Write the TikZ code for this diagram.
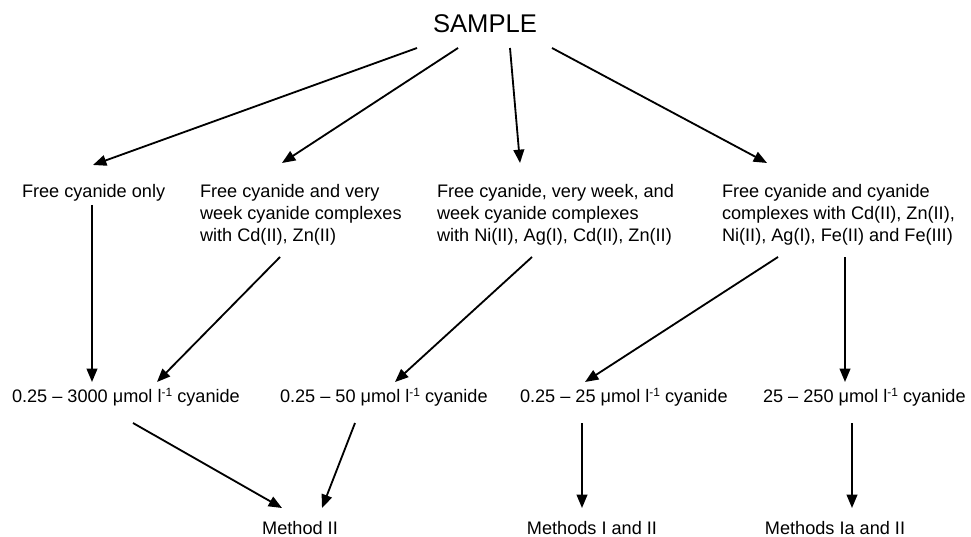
\documentclass[tikz,border=0pt]{standalone}
\usepackage{fontspec}
\setmainfont{Liberation Sans}
\usetikzlibrary{arrows.meta,calc}

\newcommand{\perlitre}{l\raisebox{0.3em}{\fontsize{8.5}{8.5}\selectfont -1}}

\tikzstyle{cn-base}=[inner sep=0pt,
                     outer sep=0pt,
                     font=\fontsize{12.9}{15.6}\selectfont]
\tikzstyle{species}=[cn-base,
                     align=left,
                     anchor=north west]
\tikzstyle{conc-range}=[cn-base,
                        anchor=base west]
\tikzstyle{method}=[cn-base,
                    anchor=base]
\tikzstyle{cn-arrow}=[line width=1.3pt,
                      -{Triangle[length=9.5pt,width=7.6pt]}]

\begin{document}
\begin{tikzpicture}[x=0.025cm, y=-0.025cm]
    \useasboundingbox (0,0) rectangle (971,537);
    % Sample
    % --------------------------------------------------------------------------
    \node at (485, 24) (sample) [inner sep=0pt, font=\fontsize{18.2}{20}\selectfont] {SAMPLE};

    % Cyanide species
    % --------------------------------------------------------------------------
    \node at ( 22, 184) (free_only) [species] {Free cyanide only};
    \node at (200, 184) (very_week) [species] {Free cyanide and very\\
                                                week cyanide complexes\\
                                                with Cd(II), Zn(II)};
    \node at (437, 184) (week)      [species] {Free cyanide, very week, and\\
                                                week cyanide complexes\\
                                                with Ni(II), Ag(I), Cd(II), Zn(II)};
    \node at (722, 184) (all)       [species] {Free cyanide and cyanide\\
                                                complexes with Cd(II), Zn(II),\\
                                                Ni(II), Ag(I), Fe(II) and Fe(III)};

    % Ranges
    % --------------------------------------------------------------------------
    \node at ( 12, 402) (range_3000) [conc-range] {0.25 -- 3000 μmol \perlitre{} cyanide};
    \node at (280, 402) (range_50)   [conc-range] {0.25 -- 50 μmol \perlitre{} cyanide};
    \node at (520, 402) (range_25)   [conc-range] {0.25 -- 25 μmol \perlitre{} cyanide};
    \node at (763, 402) (range_250)  [conc-range] {25 -- 250 μmol \perlitre{} cyanide};

    % Methods
    % --------------------------------------------------------------------------
    \node at (300, 534) (method_2)  [method] {Method II};
    \node at (592, 534) (method_12) [method] {Methods I and II};
    \node at (835, 534) (method_1a) [method] {Methods Ia and II};

    % Arrows
    % --------------------------------------------------------------------------
    \draw[cn-arrow] ($(sample.center)+(-68,24)$) -- ($(free_only.north west)+(71,-19)$);
    \draw[cn-arrow] ($(sample.center)+(-27,24)$) -- ($(very_week.north west)+(82,-21)$);
    \draw[cn-arrow] ($(sample.center)+( 25,24)$) -- ($(week.north west)+(83,-21)$);
    \draw[cn-arrow] ($(sample.center)+( 67,24)$) -- ($(all.north west)+(45,-21)$);

    \draw[cn-arrow] ($(free_only.north west)+(70,21)$) -- ($(range_3000.base west)+( 80,-20)$);
    \draw[cn-arrow] ($(very_week.north west)+(80,73)$) -- ($(range_3000.base west)+(145,-20)$);
    \draw[cn-arrow] ($(week.north west)+(95,73)$)      -- ($(range_50.base west)+(115,-20)$);
    \draw[cn-arrow] ($(all.north west)+( 56,73)$)      -- ($(range_25.base west)+(65,-20)$);
    \draw[cn-arrow] ($(all.north west)+(123,73)$)      -- ($(range_250.base west)+(82,-20)$);

    \draw[cn-arrow] ($(range_3000.base west)+(121,21)$) -- ($(method_2.base)+(-18,-26)$);
    \draw[cn-arrow] ($(range_50.base west)+(75,21)$)    -- ($(method_2.base)+( 22,-26)$);
    \draw[cn-arrow] ($(range_25.base west)+(62,21)$)    -- ($(method_12.base)+(-10,-26)$);
    \draw[cn-arrow] ($(range_250.base west)+(89,21)$)   -- ($(method_1a.base)+( 17,-26)$);
\end{tikzpicture}
\end{document}
